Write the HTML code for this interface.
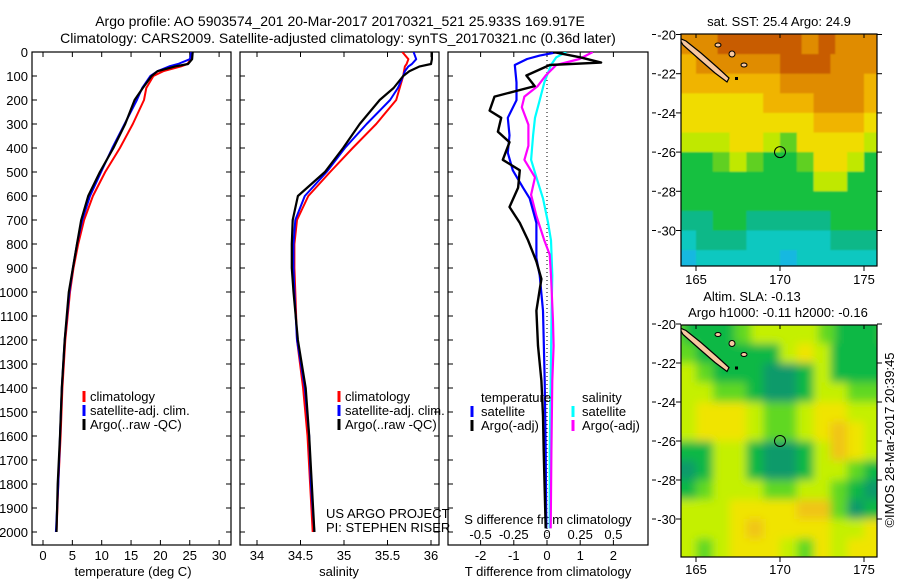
<!DOCTYPE html>
<html><head><meta charset="utf-8"><style>
html,body{margin:0;padding:0;background:#fff;}
svg{display:block;font-family:"Liberation Sans",sans-serif;font-size:13px;}
</style></head><body>
<svg id="fig" width="900" height="580" viewBox="0 0 900 580">
<defs>
<clipPath id="c1"><rect x="32" y="52" width="199" height="493"/></clipPath>
<clipPath id="c2"><rect x="240" y="52" width="199" height="493"/></clipPath>
<clipPath id="c3"><rect x="448" y="52" width="200" height="493"/></clipPath>
<clipPath id="cm1"><rect x="681" y="34" width="196" height="232"/></clipPath>
<clipPath id="cm2"><rect x="681" y="325" width="196" height="232"/></clipPath>
<filter id="blur1" x="-5%" y="-5%" width="110%" height="110%"><feGaussianBlur stdDeviation="0.9"/></filter>
<filter id="blur2" x="-5%" y="-5%" width="110%" height="110%"><feGaussianBlur stdDeviation="4.5"/></filter>
</defs>
<text x="340" y="26" text-anchor="middle" font-size="14">Argo profile: AO 5903574_201 20-Mar-2017 20170321_521 25.933S 169.917E</text>
<text x="338" y="43" text-anchor="middle" font-size="14">Climatology: CARS2009. Satellite-adjusted climatology: synTS_20170321.nc (0.36d later)</text>
<g id="g"></g>
</svg>
<script>
// ---------- data ----------
const depthTicks=[0,100,200,300,400,500,600,700,800,900,1000,1100,1200,1300,1400,1500,1600,1700,1800,1900,2000];
const tTicks=[0,5,10,15,20,25,30];
const sTicks=[34,34.5,35,35.5,36];
const dTTicks=[-2,-1,0,1,2];
const dSTicks=[-0.5,-0.25,0,0.25,0.5];
const dSTickLabels=["-0.5","-0.25","0","0.25","0.5"];

const profDepth=[0,30,50,60,80,100,150,200,300,400,500,600,700,800,900,1000,1200,1400,1600,1800,2000];
const tempClim=[25.3,25.2,24.6,23.5,20.5,18.8,17.6,17.2,15.3,13.1,10.6,8.5,7.0,6.0,5.2,4.6,3.8,3.3,3.0,2.6,2.3];
const tempSat =[25.3,25.0,23.0,21.5,19.5,18.3,16.9,16.0,13.9,11.8,9.9,8.0,6.7,5.8,5.1,4.5,3.7,3.2,2.9,2.6,2.2];
const tempArgo=[25.5,25.4,24.7,22.5,19.5,18.5,17.0,15.6,14.0,12.0,9.7,7.7,6.5,5.8,5.1,4.4,3.7,3.2,2.9,2.5,2.3];
const salClim=[35.67,35.74,35.72,35.70,35.69,35.68,35.64,35.60,35.37,35.10,34.84,34.59,34.46,34.43,34.43,34.44,34.46,34.53,34.58,34.61,34.64];
const salSat =[35.80,35.83,35.78,35.74,35.70,35.68,35.62,35.53,35.26,35.01,34.80,34.55,34.44,34.42,34.42,34.43,34.46,34.55,34.60,34.62,34.66];
const salArgo=[36.01,36.01,36.00,35.87,35.75,35.68,35.57,35.41,35.18,34.99,34.78,34.47,34.41,34.40,34.40,34.42,34.47,34.56,34.60,34.63,34.66];

const dTArgoDepth=[0,22,44,54,98,142,186,244,274,332,376,449,493,566,646,712,785,873,946,990,1078,1224,1370,1517,1663,1985];
const dTArgo=[0.18,1.0,1.63,0.08,-0.62,-0.37,-1.58,-1.73,-1.38,-1.48,-1.13,-1.33,-0.82,-0.87,-1.13,-0.82,-0.57,-0.32,-0.17,-0.22,-0.32,-0.27,-0.17,-0.12,-0.10,-0.04];
const dTSatDepth=[0,15,29,54,127,201,274,347,420,493,566,610,712,858,931,1078,1370,1663,1985];
const dTSat=[0.33,-0.22,-0.6,-0.97,-0.92,-0.92,-1.18,-1.13,-1.18,-1.03,-0.72,-0.52,-0.32,-0.32,-0.22,-0.12,-0.07,-0.04,-0.02];
const dSSatDepth=[0,22,54,127,201,274,347,449,522,610,712,785,931,1078,1370,1663,1985];
const dSSat=[0.145,0.07,0.03,-0.02,-0.055,-0.09,-0.105,-0.12,-0.08,-0.03,0.008,0.03,0.04,0.035,0.028,0.02,0.02];
const dSArgoDepth=[0,29,54,98,142,186,230,303,391,449,522,595,683,785,844,931,1122,1224,1370,1663,1985];
const dSArgo=[0.345,0.245,0.07,-0.01,-0.07,-0.17,-0.19,-0.14,-0.14,-0.17,-0.09,-0.12,-0.08,-0.02,0.02,0.03,0.045,0.05,0.04,0.033,0.028];

// SST map grid (rows: lat -20..-31, cols: lon 164..175), color index 0-9
const sstGrid=[
[8,8,8,9,9,9,9,9,8,9,8,8],
[7,8,8,8,8,8,9,9,9,8,8,8],
[7,7,7,7,7,7,8,8,8,8,8,7],
[6,6,6,6,6,7,7,7,8,8,8,7],
[6,6,6,6,6,6,6,6,7,7,7,6],
[5,5,5,6,6,5,4,6,6,6,6,5],
[3,3,4,5,4,3,3,4,6,6,5,3],
[3,3,3,3,3,3,3,3,5,5,3,3],
[3,3,3,3,3,3,3,3,3,3,3,3],
[2,2,3,3,2,2,2,2,2,3,3,3],
[1,2,2,2,1,1,1,1,1,2,2,2],
[0,1,1,1,1,1,0,1,1,1,1,1]];
const sstColors=["#18b8e0","#10c8c0","#10b888","#18c040","#60d020","#c0e800","#f0dc00","#f0b400","#e08c00","#c85c00"];
// SLA map grid, color index 0-5
const slaGrid=[
[2,1,1,1,2,3,3,3,3,2,1,1],
[2,1,1,1,1,1,3,4,3,1,1,1],
[3,2,1,1,1,0,0,1,3,1,1,1],
[3,3,2,2,1,0,0,1,3,3,2,2],
[3,4,4,4,3,2,2,3,4,4,3,3],
[3,4,4,4,3,2,2,3,4,5,4,3],
[1,1,3,3,1,0,0,1,3,5,4,3],
[0,1,3,3,1,0,0,1,3,3,2,1],
[1,2,3,3,3,2,2,3,3,2,1,0],
[3,3,3,4,4,4,4,5,5,2,0,1],
[3,3,3,4,5,4,4,4,4,3,3,4],
[3,2,3,4,4,4,3,2,4,3,4,4]];
const slaColors=["#0a9a6a","#10b844","#60d820","#c4f000","#f0e400","#f0c414"];
const latTicks=[-20,-22,-24,-26,-28,-30];
const lonTicks=[165,170,175];
const argoLon=[170], argoLat=[-26];

// ---------- helpers ----------
const NS="http://www.w3.org/2000/svg";
const G=document.getElementById('g');
function mk(tag,attrs,parent){const e=document.createElementNS(NS,tag);for(const k in attrs)e.setAttribute(k,attrs[k]);(parent||G).appendChild(e);return e;}
const yD=d=>52+d*0.24;
const xT=t=>43+t*5.87;
const xS=s=>257+(s-34)*87;
const xdT=v=>547+v*33.2;
const xdS=v=>547+v*132.8;
const mx=lon=>696+(lon-165)*16.8;
const my1=lat=>34.5+(-20-lat)*19.6;
const my2=lat=>324+(-20-lat)*19.5;

function frame(x,y,w,h,name){const r=mk('rect',{x:x,y:y,width:w,height:h,fill:'none',stroke:'#000','stroke-width':1.2});}
function line(xs,ys,color,w,clip,name){
  let d='';for(let i=0;i<xs.length;i++)d+=(i?'L':'M')+xs[i].toFixed(1)+','+ys[i].toFixed(1);
  const p=mk('path',{d:d,fill:'none',stroke:color,'stroke-width':w,'stroke-linejoin':'round','clip-path':'url(#'+clip+')'});
  
}
function txt(x,y,s,anchor,name,extra){const t=mk('text',Object.assign({x:x,y:y,'text-anchor':anchor||'start'},extra||{}));t.textContent=s;return t;}

// ---------- depth axis ----------
depthTicks.forEach(d=>{
  txt(28,yD(d)+5,String(d),'end','depth-tick-label');
  [32,240,448].forEach(x0=>{mk('line',{x1:x0,x2:x0+5,y1:yD(d),y2:yD(d),stroke:'#000'});});
  [231,439].forEach(x0=>{mk('line',{x1:x0,x2:x0-5,y1:yD(d),y2:yD(d),stroke:'#000'});});
});

// ---------- panel 1 temperature ----------
frame(32,52,199,493,'temperature-panel');
tTicks.forEach(t=>{const x=xT(t);mk('line',{x1:x,x2:x,y1:545,y2:540,stroke:'#000'});mk('line',{x1:x,x2:x,y1:52,y2:57,stroke:'#000'});txt(x,560,String(t),'middle','temperature-tick-label');});
txt(133,576,'temperature (deg C)','middle','temperature-axis-title');
line(tempClim.map(xT),profDepth.map(yD),'#ff0000',2,'c1','temperature-climatology-line');
line(tempSat.map(xT),profDepth.map(yD),'#0000ff',2,'c1','temperature-satellite-line');
line(tempArgo.map(xT),profDepth.map(yD),'#000000',2.2,'c1','temperature-argo-line');

// ---------- panel 2 salinity ----------
frame(240,52,199,493,'salinity-panel');
sTicks.forEach(s=>{const x=xS(s);mk('line',{x1:x,x2:x,y1:545,y2:540,stroke:'#000'});mk('line',{x1:x,x2:x,y1:52,y2:57,stroke:'#000'});txt(x,560,String(s),'middle','salinity-tick-label');});
txt(339,576,'salinity','middle','salinity-axis-title');
line(salClim.map(xS),profDepth.map(yD),'#ff0000',2,'c2','salinity-climatology-line');
line(salSat.map(xS),profDepth.map(yD),'#0000ff',2,'c2','salinity-satellite-line');
line(salArgo.map(xS),profDepth.map(yD),'#000000',2.2,'c2','salinity-argo-line');

// legends panel 1 & 2
[[84,90],[339,345]].forEach(([tx,lx],pi)=>{
  [['#ff0000','climatology'],['#0000ff','satellite-adj. clim.'],['#000000','Argo(..raw -QC)']].forEach(([c,l],i)=>{
    const y=398+i*14;
    const r=mk('rect',{x:tx-1.5,y:y-7,width:3,height:11,fill:c});
    
    txt(lx,y+3,l,'start','legend-entry');
  });
});
txt(326,518,'US ARGO PROJECT','start','project-credit');
txt(326,532,'PI: STEPHEN RISER','start','pi-credit');

// ---------- panel 3 differences ----------
frame(448,52,200,493,'difference-panel');
dTTicks.forEach(v=>{const x=xdT(v);mk('line',{x1:x,x2:x,y1:545,y2:540,stroke:'#000'});mk('line',{x1:x,x2:x,y1:52,y2:57,stroke:'#000'});txt(x,560,String(v),'middle','t-diff-tick-label');});
dSTicks.forEach((v,i)=>{txt(xdS(v),539,dSTickLabels[i],'middle','s-diff-tick-label');});
txt(548,524,'S difference from climatology','middle','s-diff-axis-title');
txt(548,576,'T difference from climatology','middle','t-diff-axis-title');
mk('line',{x1:xdT(0),x2:xdT(0),y1:52,y2:545,stroke:'#000','stroke-dasharray':'1,3'});
line(dSSat.map(xdS),dSSatDepth.map(yD),'#00ffff',2.2,'c3','s-diff-satellite-line');
line(dSArgo.map(xdS),dSArgoDepth.map(yD),'#ff00ff',2.2,'c3','s-diff-argo-line');
line(dTSat.map(xdT),dTSatDepth.map(yD),'#0000ff',2.2,'c3','t-diff-satellite-line');
line(dTArgo.map(xdT),dTArgoDepth.map(yD),'#000000',2.4,'c3','t-diff-argo-line');
txt(481,402,'temperature','start','legend-title-temperature');
txt(582,402,'salinity','start','legend-title-salinity');
[[472,481,'#0000ff','satellite',416],[472,481,'#000000','Argo(-adj)',430],[573,582,'#00ffff','satellite',416],[573,582,'#ff00ff','Argo(-adj)',430]].forEach(([tx,lx,c,l,y])=>{
  const r=mk('rect',{x:tx-1.5,y:y-10,width:3,height:11,fill:c});
  
  txt(lx,y,l,'start','legend-entry');
});

// ---------- maps ----------
function drawMap(grid,colors,my,clip,filt,name,top){
  const g=mk('g',{'clip-path':'url(#'+clip+')'});
  
  const inner=mk('g',{filter:'url(#'+filt+')'},g);
  mk('rect',{x:670,y:top-10,width:220,height:260,fill:colors[grid[0][0]]},inner);
  grid.forEach((row,ri)=>row.forEach((v,ci)=>{
    const lat=-20-ri, lon=164+ci;
    const x0=mx(lon),x1=mx(lon+1),y0=my(lat),y1=my(lat-1);
    const r=mk('rect',{x:ri===0||ci===0?x0-12:x0,y:ri===0?y0-12:y0,width:(x1-x0)+(ci===0?12:0)+(ci===11?12:0)+0.5,height:(y1-y0)+(ri===0?12:0)+(ri===11?12:0)+0.5,fill:colors[v]},inner);
    
    
  }));
  const yo=my(-20)-34.5;
  const nc=mk('polygon',{points:[[679,38],[683,45],[700,60],[715,73],[727,82],[729,78],[717,67],[701,53],[686,41]].map(p=>p[0]+','+(p[1]+yo)).join(' '),fill:'#f8c8a0',stroke:'#000','stroke-width':1.2},g);
  
  [[718,45,3,2],[732,54,3,3],[744,65,3,2]].forEach(([x,y,rx,ry])=>{const e=mk('ellipse',{cx:x,cy:y+yo,rx:rx,ry:ry,fill:'#f8c8a0',stroke:'#000','stroke-width':1},g);});
  mk('rect',{x:735,y:77+yo,width:3,height:3,fill:'#000'},g);
  argoLon.forEach((lo,i)=>{const c=mk('circle',{cx:mx(lo),cy:my(argoLat[i]),r:5.5,fill:'none',stroke:'#000','stroke-width':1},g);});
}
function mapAxes(my,top,labelY,name){
  frame(681,top,196,232,name);
  latTicks.forEach(l=>{const y=my(l);mk('line',{x1:681,x2:676,y1:y,y2:y,stroke:'#000'});mk('line',{x1:877,x2:882,y1:y,y2:y,stroke:'#000'});mk('line',{x1:652,x2:656,y1:y,y2:y,stroke:'#000'});txt(676,y+5,String(l),'end','map-lat-tick-label');});
  lonTicks.forEach(l=>{const x=mx(l);mk('line',{x1:x,x2:x,y1:top+232,y2:top+237,stroke:'#000'});mk('line',{x1:x,x2:x,y1:top,y2:top+4,stroke:'#000'});txt(x,labelY,String(l),'middle','map-lon-tick-label');});
}
drawMap(sstGrid,sstColors,my1,'cm1','blur1','sst-map',34);
mapAxes(my1,34,284,'sst-map-frame');
drawMap(slaGrid,slaColors,my2,'cm2','blur2','sla-map',325);
mapAxes(my2,325,574,'sla-map-frame');
txt(779,26,'sat. SST: 25.4 Argo: 24.9','middle','sst-map-title');
txt(752,301,'Altim. SLA: -0.13','middle','sla-map-title-1');
txt(778,317,'Argo h1000: -0.11 h2000: -0.16','middle','sla-map-title-2');
txt(0,0,'©IMOS 28-Mar-2017 20:39:45','middle','imos-timestamp',{transform:'translate(894,440) rotate(-90)'});
</script>
</body></html>
